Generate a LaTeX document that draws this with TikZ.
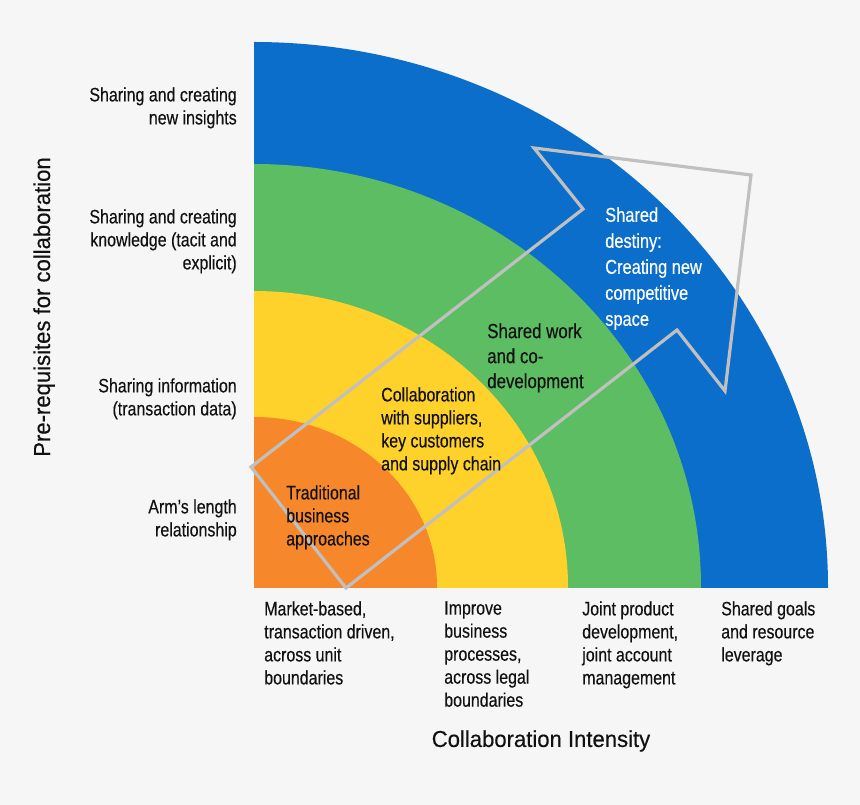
\documentclass[tikz,border=0pt]{standalone}
\usepackage{fontspec}
\setmainfont{Liberation Sans}[FakeStretch=0.82,FakeBold=0.3]
\newfontfamily\titlefont{Liberation Sans}[FakeStretch=0.96,FakeBold=0.4]
\definecolor{bgc}{HTML}{F6F6F6}
\definecolor{ringblue}{HTML}{0B6ECB}
\definecolor{ringgreen}{HTML}{5DBD63}
\definecolor{ringyellow}{HTML}{FFD12B}
\definecolor{ringorange}{HTML}{F6872A}
\definecolor{arrowgray}{HTML}{C0C0C0}
\definecolor{txt}{HTML}{111111}
\begin{document}
\begin{tikzpicture}[x=0.75pt,y=-0.75pt,
  lbl/.style={inner sep=0pt, text=txt, font=\fontsize{14.6pt}{17.25pt}\selectfont},
  leftlbl/.style={lbl, align=right, anchor=north east},
  botlbl/.style={lbl, align=left, anchor=north west},
  inlbl/.style={lbl, align=left, anchor=north west},
  bigtitle/.style={inner sep=0pt, text=txt, font=\titlefont\fontsize{17.25pt}{20pt}\selectfont},
  arrowline/.style={draw=arrowgray, line width=2.4pt, line join=miter}]
\fill[bgc] (0,0) rectangle (860,805);
\useasboundingbox (0,0) rectangle (860,805);
\coordinate (o) at (254,587);
\begin{scope}
  \clip (254,0) rectangle (860,587);
  \fill[ringblue] (o) ellipse [x radius=574, y radius=545];
  \fill[ringgreen] (o) ellipse [x radius=447, y radius=423];
  \fill[ringyellow] (o) ellipse [x radius=314, y radius=296];
  \fill[ringorange] (o) ellipse [x radius=183, y radius=170];
\end{scope}
% arrow outline
\coordinate (a1) at (251,467);
\coordinate (a2) at (346,588);
\coordinate (a3) at (677,330);
\coordinate (a4) at (725,391);
\coordinate (a5) at (751,175);
\coordinate (a6) at (534,148);
\coordinate (a7) at (583,209);
\draw[arrowline] (a1) -- (a2) -- (a3) -- (a4) -- (a5) -- (a6) -- (a7) -- cycle;
% left labels
\node[leftlbl] (l1) at (237,87) {Sharing and creating\\new insights};
\node[leftlbl] (l2) at (237,209) {Sharing and creating\\knowledge (tacit and\\explicit)};
\node[leftlbl] (l3) at (237,378) {Sharing information\\(transaction data)};
\node[leftlbl] (l4) at (237,499) {Arm’s length\\relationship};
\node[bigtitle, rotate=90, anchor=base] (ylab) at (50,307) {Pre-requisites for collaboration};
% bottom labels
\node[botlbl] (b1) at (264,601) {Market-based,\\transaction driven,\\across unit\\boundaries};
\node[botlbl] (b2) at (444,601) {Improve\\business\\processes,\\across legal\\boundaries};
\node[botlbl] (b3) at (582,601) {Joint product\\development,\\joint account\\management};
\node[botlbl] (b4) at (721,601) {Shared goals\\and resource\\leverage};
\node[bigtitle, anchor=north] (xlab) at (541,730) {Collaboration Intensity};
% inner labels
\node[inlbl] (t1) at (286,485) {Traditional\\business\\approaches};
\node[inlbl] (t2) at (381,387) {Collaboration\\with suppliers,\\key customers\\and supply chain};
\node[inlbl, font=\fontsize{15.4pt}{18.75pt}\selectfont] (t3) at (487,323) {Shared work\\and co-\\development};
\node[inlbl, text=white, font=\fontsize{15pt}{19.5pt}\selectfont] (t4) at (605,207) {Shared\\destiny:\\Creating new\\competitive\\space};
\end{tikzpicture}
\end{document}
